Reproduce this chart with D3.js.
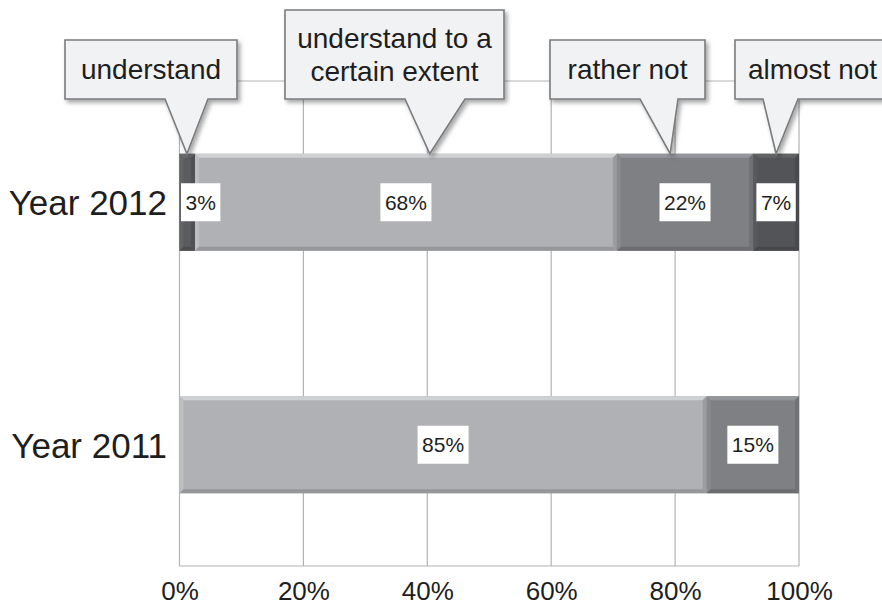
<!DOCTYPE html>
<html>
<head>
<meta charset="utf-8">
<script src="https://cdn.jsdelivr.net/npm/d3@7"></script>
<style>
  body { margin: 0; background: #fff; }
  svg { display: block; font-family: "Liberation Sans", Arial, sans-serif; }
</style>
</head>
<body>
<svg id="chart" width="882" height="606"></svg>
<script>
// data
const years = ["Year 2012", "Year 2011"];
const categories = ["understand", "understand to a certain extent", "rather not", "almost not"];
const values2012 = [2.5, 68.1, 22.0, 7.4];
const values2011 = [0, 85.1, 14.9, 0];
const xTicks = [0, 20, 40, 60, 80, 100];
// where each callout pointer touches the 2012 bar (in % units)
const calloutTips = [1.2, 40.4, 79.2, 96.3];
const calloutLines = [["understand"], ["understand to a", "certain extent"], ["rather not"], ["almost not"]];

const colors = ["#5b5c5f", "#b0b1b4", "#7f8084", "#535457"];

const margin = {top: 81, right: 83, bottom: 40, left: 179.5};
const width = 882, height = 606;
const plotW = width - margin.left - margin.right;
const plotH = height - margin.top - margin.bottom;

// callout box layout (pixels)
const calloutBoxes = [
    {x0: 65, x1: 237, y0: 40, y1: 99, b0: 165, b1: 208},
    {x0: 285, x1: 504, y0: 10, y1: 99, b0: 405, b1: 465},
    {x0: 550, x1: 705, y0: 40, y1: 99, b0: 640, b1: 678},
    {x0: 735, x1: 892, y0: 40, y1: 99, b0: 763, b1: 798}
];

const svg = d3.select("#chart");

const defs = svg.append("defs");
const shadow = defs.append("filter").attr("id", "shadow")
    .attr("x", "-10%").attr("y", "-10%").attr("width", "130%").attr("height", "140%");
shadow.append("feDropShadow")
    .attr("dx", 2.5).attr("dy", 3).attr("stdDeviation", 2)
    .attr("flood-color", "#000").attr("flood-opacity", 0.35);

const g = svg.append("g").attr("transform", `translate(${margin.left},${margin.top})`);

const xScale = d3.scaleLinear().domain([0, 100]).range([0, plotW]);
const yScale = d3.scaleBand().domain(years).range([0, plotH]).paddingInner(0.6).paddingOuter(0.3);

// grid + frame
g.selectAll("line.grid")
    .data(xTicks)
    .join("line")
    .attr("class", "grid")
    .attr("x1", d => xScale(d)).attr("x2", d => xScale(d))
    .attr("y1", 0).attr("y2", plotH)
    .attr("stroke", "#b3b3b3").attr("stroke-width", 1.2);
g.append("line").attr("x1", 0).attr("x2", plotW).attr("y1", 0).attr("y2", 0)
    .attr("stroke", "#b3b3b3").attr("stroke-width", 1.2);
g.append("line").attr("x1", 0).attr("x2", plotW).attr("y1", plotH).attr("y2", plotH)
    .attr("stroke", "#b3b3b3").attr("stroke-width", 1.2);

// stacked bars
const rows = years.map((y, i) => {
    const vals = i === 0 ? values2012 : values2011;
    const r = {year: y};
    categories.forEach((c, j) => r[c] = vals[j]);
    return r;
});
const series = d3.stack().keys(categories)(rows);

const bevel = 4;
series.forEach((s, ci) => {
    const base = d3.color(colors[ci]);
    s.forEach(d => {
        if (d[1] - d[0] <= 0) return;
        const x0 = xScale(d[0]), x1 = xScale(d[1]);
        const y0 = yScale(d.data.year), y1 = y0 + yScale.bandwidth();
        const seg = g.append("g");
        seg.append("rect")
            .attr("x", x0).attr("y", y0)
            .attr("width", x1 - x0).attr("height", y1 - y0)
            .attr("fill", base.formatHex());
        const b = bevel;
        const faces = [
            {pts: [[x0, y0], [x1, y0], [x1 - b, y0 + b], [x0 + b, y0 + b]], fill: base.brighter(0.45)},
            {pts: [[x0, y0], [x0 + b, y0 + b], [x0 + b, y1 - b], [x0, y1]], fill: base.brighter(0.2)},
            {pts: [[x0, y1], [x1, y1], [x1 - b, y1 - b], [x0 + b, y1 - b]], fill: base.darker(0.45)},
            {pts: [[x1, y0], [x1 - b, y0 + b], [x1 - b, y1 - b], [x1, y1]], fill: base.darker(0.35)}
        ];
        seg.selectAll("polygon")
            .data(faces)
            .join("polygon")
            .attr("points", f => f.pts.map(p => p.join(",")).join(" "))
            .attr("fill", f => f.fill.formatHex());
    });
});

// value labels
const fmt = d3.format(".0f");
series.forEach(s => {
    s.forEach(d => {
        const v = d[1] - d[0];
        if (v <= 0) return;
        const cx = xScale((d[0] + d[1]) / 2);
        const cy = yScale(d.data.year) + yScale.bandwidth() / 2;
        const lg = g.append("g");
        const t = lg.append("text")
            .attr("y", cy)
            .attr("dy", "0.36em")
            .attr("text-anchor", "middle")
            .attr("font-size", 21)
            .attr("fill", "#1e1e1e")
            .text(fmt(v) + "%");
        const w = t.node().getComputedTextLength() + 9;
        let left = cx - w / 2;
        if (left < 1.5) left = 1.5;
        t.attr("x", left + w / 2);
        lg.insert("rect", "text")
            .attr("x", left).attr("y", cy - 19)
            .attr("width", w).attr("height", 38)
            .attr("fill", "#fff");
    });
});

// axes
const xAxis = g.append("g")
    .attr("transform", `translate(0,${plotH})`)
    .call(d3.axisBottom(xScale).tickValues(xTicks).tickFormat(d => d + "%").tickSize(0).tickPadding(16));
xAxis.select(".domain").remove();
xAxis.selectAll("text").attr("font-size", 26).attr("fill", "#1e1e1e").style("font-family", "inherit");

const yAxis = g.append("g")
    .call(d3.axisLeft(yScale).tickSize(0).tickPadding(12.5));
yAxis.select(".domain").remove();
yAxis.selectAll("text").attr("font-size", 35).attr("fill", "#1e1e1e").attr("dy", "0.37em").style("font-family", "inherit");

// callouts
const barTop = margin.top + yScale(years[0]);
calloutBoxes.forEach((bx, i) => {
    const tipX = margin.left + xScale(calloutTips[i]);
    const path = d3.path();
    path.moveTo(bx.x0, bx.y0);
    path.lineTo(bx.x1, bx.y0);
    path.lineTo(bx.x1, bx.y1);
    path.lineTo(bx.b1, bx.y1);
    path.lineTo(tipX, barTop);
    path.lineTo(bx.b0, bx.y1);
    path.lineTo(bx.x0, bx.y1);
    path.closePath();
    svg.append("path")
        .attr("d", path.toString())
        .attr("fill", "#f1f2f3")
        .attr("stroke", "#7a7b7d")
        .attr("stroke-width", 1.6)
        .attr("stroke-linejoin", "miter")
        .attr("filter", "url(#shadow)");
    const lines = calloutLines[i];
    const cx = i === 3 ? 812.5 : (bx.x0 + bx.x1) / 2;
    const lh = 33;
    const mid = (bx.y0 + bx.y1) / 2;
    const t = svg.append("text")
        .attr("text-anchor", "middle")
        .attr("font-size", 28)
        .attr("fill", "#1e1e1e");
    lines.forEach((ln, k) => {
        t.append("tspan")
            .attr("x", cx)
            .attr("y", mid + (k - (lines.length - 1) / 2) * lh)
            .attr("dy", "0.35em")
            .text(ln);
    });
});
</script>
</body>
</html>
